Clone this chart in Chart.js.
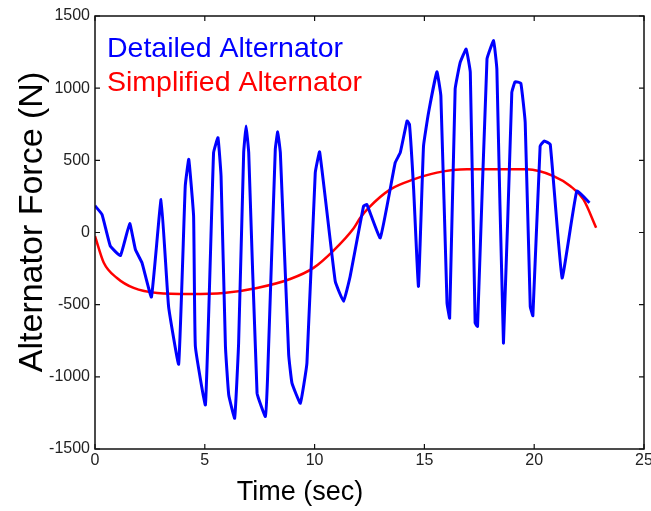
<!DOCTYPE html>
<html>
<head>
<meta charset="utf-8">
<script src="https://cdn.jsdelivr.net/npm/chart.js@4.4.0/dist/chart.umd.min.js"></script>
<style>
html, body { margin: 0; padding: 0; background: #fff; }
#wrap { width: 651px; height: 511px; position: relative; }
</style>
</head>
<body>
<div id="wrap"><canvas id="force-chart"></canvas></div>
<script>
// --- Data ---
const detailedTime = [0, 0.32, 0.7, 1.16, 1.58, 1.84, 2.14, 2.57, 3.01, 3.35, 3.81,
    4.11, 4.27, 4.49, 4.57, 5.03, 5.4, 5.6, 5.74, 5.94, 6.09, 6.36,
    6.54, 6.77, 6.88, 7.0, 7.38, 7.76, 7.86, 8.21, 8.32, 8.44, 8.82, 8.97, 9.35,
    9.65, 10.03, 10.23, 10.94, 11.32, 11.62, 12.23, 12.38, 12.99, 13.67, 13.9,
    14.21, 14.32, 14.51, 14.73, 14.96, 15.19, 15.57, 15.75, 16.03, 16.15,
    16.4, 16.63, 16.9, 17.09, 17.31, 17.42, 17.85, 18.15, 18.3, 18.6,
    18.98, 19.13, 19.39, 19.59, 19.82, 19.94, 20.27, 20.46, 20.73, 21.27, 21.94, 22.52];
const detailedForce = [185, 125, -95, -160, 62, -118, -210, -447, 229, -512, -912,
    322, 507, 113, -788, -1194, 553, 657, 391, -790, -1125, -1287,
    -766, 553, 738, 553, -1113, -1275, -998, 576, 697, 553, -847, -1044, -1183,
    -905, 414, 558, -338, -477, -303, 183, 194, -37, 484, 553,
    773, 750, 299, -373, 599, 831, 1113, 947, -488, -593,
    993, 1178, 1271, 1109, -627, -651, 1201, 1329, 1132, -766,
    970, 1044, 1035, 762, -512, -576, 599, 634, 611, -315, 287, 206];

const simplifiedTime = [0, 0.4, 1.0, 1.76, 2.83, 4.34, 5.86, 7.38, 8.89, 9.95, 10.86, 11.78, 12.08,
    12.46, 13.45, 14.51, 15.57, 16.94, 19.67, 20.88, 21.64, 22.24, 22.82];
const simplifiedForce = [-26, -210, -315, -384, -419, -426, -419, -384, -322, -245, -125, 30, 102,
    171, 299, 368, 415, 438, 438, 391, 322, 229, 33];

const xTicks = [0, 5, 10, 15, 20, 25];
const yTicks = [-1500, -1000, -500, 0, 500, 1000, 1500];

const FONT = "'Liberation Sans', Arial, sans-serif";

function toPoints(xs, ys) {
    return xs.map((x, i) => ({ x: x, y: ys[i] }));
}

// Frame, inward ticks, legend text and axis titles (MATLAB look)
const matlabFrame = {
    id: 'matlabFrame',
    afterDraw(chart) {
        const ctx = chart.ctx;
        const a = chart.chartArea;
        const xs = chart.scales.x;
        const ys = chart.scales.y;
        ctx.save();
        ctx.strokeStyle = '#111';
        ctx.lineWidth = 1.5;
        ctx.strokeRect(a.left, a.top, a.right - a.left, a.bottom - a.top);

        ctx.lineWidth = 1.2;
        ctx.beginPath();
        xTicks.forEach(v => {
            const px = xs.getPixelForValue(v);
            ctx.moveTo(px, a.bottom); ctx.lineTo(px, a.bottom - 5);
            ctx.moveTo(px, a.top); ctx.lineTo(px, a.top + 5);
        });
        yTicks.forEach(v => {
            const py = ys.getPixelForValue(v);
            ctx.moveTo(a.left, py); ctx.lineTo(a.left + 5, py);
            ctx.moveTo(a.right, py); ctx.lineTo(a.right - 5, py);
        });
        ctx.stroke();

        // legend inside the plot
        ctx.font = `28.5px ${FONT}`;
        ctx.textAlign = 'left';
        ctx.textBaseline = 'alphabetic';
        chart.data.datasets.forEach((ds, i) => {
            ctx.fillStyle = ds.borderColor;
            ctx.fillText(ds.label, a.left + 12, a.top + 41 + i * 34);
        });

        // axis titles
        ctx.fillStyle = '#000';
        ctx.font = `27px ${FONT}`;
        ctx.textAlign = 'center';
        ctx.fillText('Time (sec)', 300, 500);

        ctx.translate(42, 222);
        ctx.rotate(-Math.PI / 2);
        ctx.font = `34px ${FONT}`;
        ctx.fillText('Alternator Force (N)', 0, 0);
        ctx.restore();
    }
};

new Chart(document.getElementById('force-chart'), {
    type: 'line',
    data: {
        datasets: [
            {
                label: 'Detailed Alternator',
                data: toPoints(detailedTime, detailedForce),
                borderColor: '#0000ff',
                borderWidth: 3,
                borderJoinStyle: 'round',
                pointRadius: 0,
                tension: 0.1,
                fill: false
            },
            {
                label: 'Simplified Alternator',
                data: toPoints(simplifiedTime, simplifiedForce),
                borderColor: '#ff0000',
                borderWidth: 2.5,
                pointRadius: 0,
                cubicInterpolationMode: 'monotone',
                fill: false
            }
        ]
    },
    options: {
        responsive: true,
        maintainAspectRatio: false,
        animation: false,
        devicePixelRatio: 1,
        layout: { padding: { top: 16, right: 7, left: 0, bottom: 0 } },
        plugins: {
            legend: { display: false },
            tooltip: { enabled: false }
        },
        scales: {
            x: {
                type: 'linear',
                min: 0,
                max: 25,
                afterBuildTicks: s => { s.ticks = xTicks.map(v => ({ value: v })); },
                afterFit: s => { s.height = 62; s.paddingLeft = 0; s.paddingRight = 0; },
                grid: { display: false, drawTicks: false },
                border: { display: false },
                ticks: {
                    font: { family: FONT, size: 16 }, color: '#222', padding: 2, maxRotation: 0,
                    callback: v => String(v)
                }
            },
            y: {
                min: -1500,
                max: 1500,
                afterBuildTicks: s => { s.ticks = yTicks.map(v => ({ value: v })); },
                afterFit: s => { s.width = 95; },
                grid: { display: false, drawTicks: false },
                border: { display: false },
                ticks: {
                    font: { family: FONT, size: 16 }, color: '#222', padding: 5,
                    callback: v => String(v)
                }
            }
        }
    },
    plugins: [matlabFrame]
});
</script>
</body>
</html>
